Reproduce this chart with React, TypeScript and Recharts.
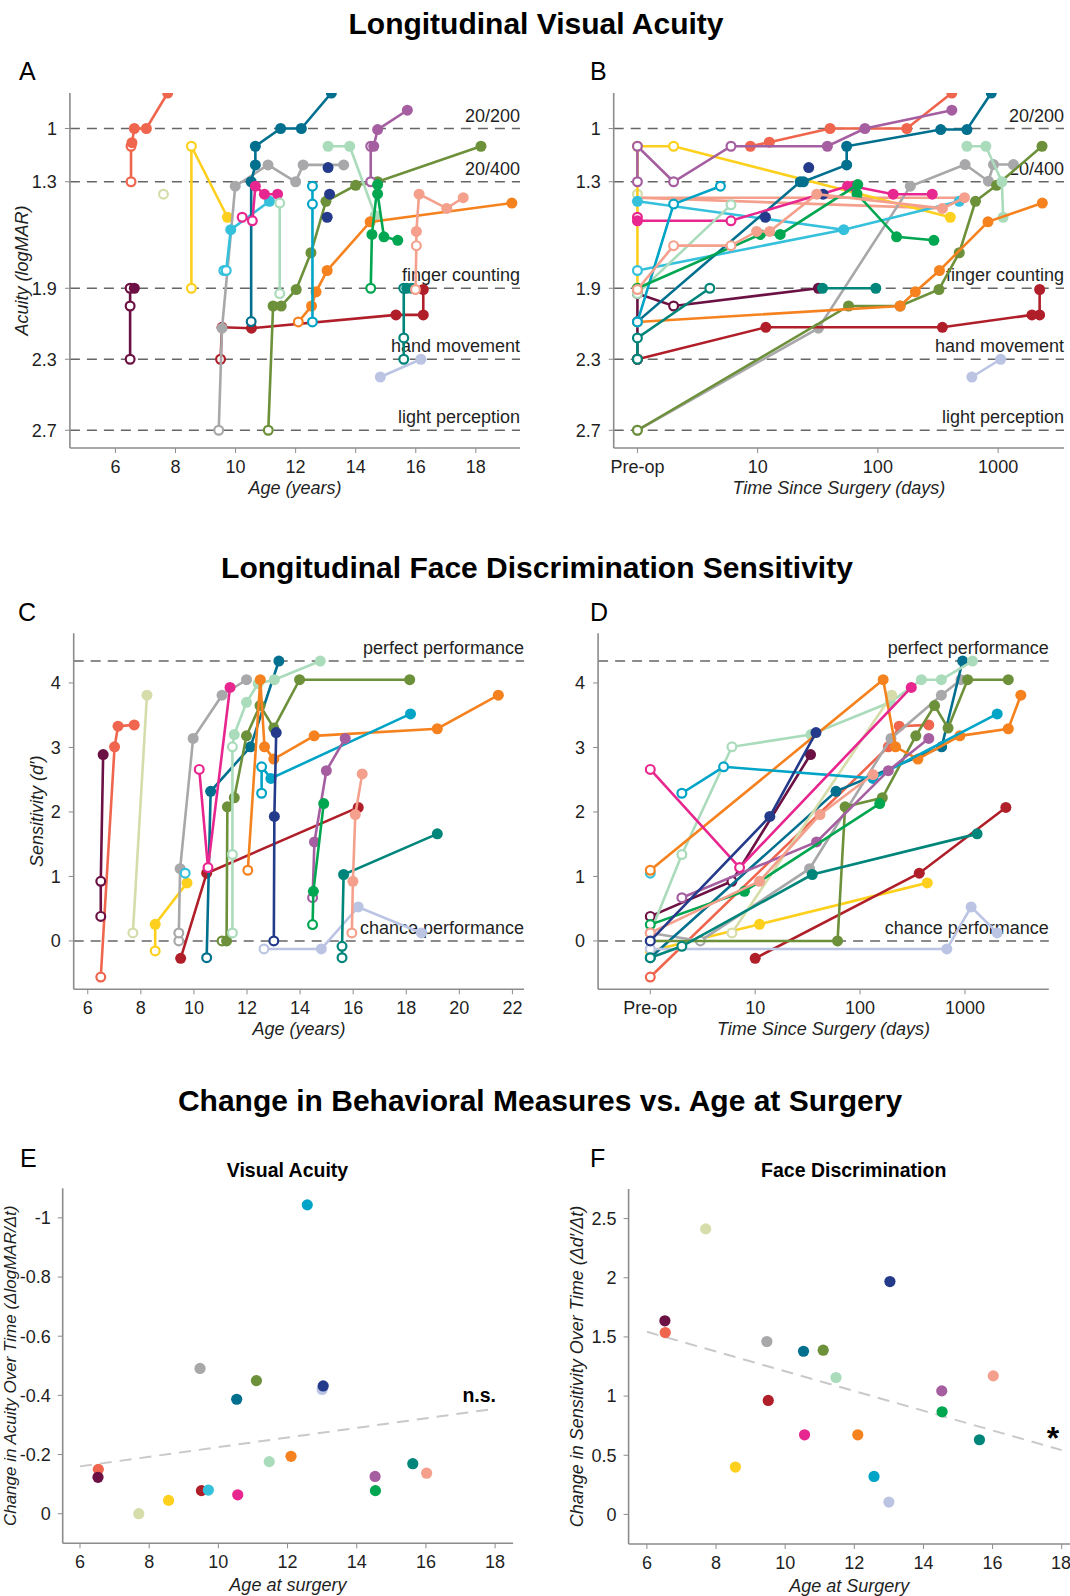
import React from "react";
import { ScatterChart, Scatter, XAxis, YAxis, ReferenceLine } from "recharts";

const FONT = '"Liberation Sans", Arial, Helvetica, sans-serif';
const INK = "#1f1f1f";
const AXIS_GREY = "#8c8c8c";
const GUIDE_GREY = "#666666";

// marker codes for each measurement
const FILL = 0;
const OPEN = 1;
const HIDE = 2;

type Pt = [number, number, number];
type Seg = { s: number; pts: Pt[]; line?: boolean };

// participants, in drawing order
const subjects = [
  "P01", "P02", "P03", "P04", "P05", "P06", "P07", "P08", "P09", "P10",
  "P11", "P12", "P13", "P14", "P15", "P16", "P17", "P18", "P19",
];
const subjectColors = [
  "#f0654d", "#6b1143", "#d6dcaa", "#fdd01e", "#a8a8aa", "#b01f29", "#35c0dc",
  "#016f8e", "#e8268f", "#6d903a", "#aadcbb", "#f5821f", "#00a4c6", "#bcc4e4",
  "#243a8a", "#a55fa0", "#00a650", "#00857a", "#f4a08c",
];
const surgeryAge = [
  6.53, 6.52, 7.7, 8.56, 9.47, 9.51, 9.71, 10.53, 10.56, 11.1,
  11.47, 12.1, 12.57, 13.0, 13.03, 14.53, 14.54, 15.62, 16.02,
];
const acuitySlope = [
  -0.15, -0.123, 0.0, -0.045, -0.491, -0.078, -0.08, -0.387, -0.064, -0.45,
  -0.176, -0.194, -1.044, -0.42, -0.432, -0.126, -0.078, -0.169, -0.137,
];
const faceSlope = [
  1.537, 1.636, 2.413, 0.4, 1.461, 0.963, null, 1.379, 0.673, 1.388,
  1.157, 0.673, 0.321, 0.104, 1.968, 1.044, 0.867, 0.631, 1.171,
];
const acuityFit: [number, number][] = [[6, -0.16], [18, -0.355]];
const faceFit: [number, number][] = [[6, 1.543], [18, 0.543]];

const acuityLevels = [1, 1.3, 1.9, 2.3, 2.7];
const acuityLevelNames = ["20/200", "20/400", "finger counting", "hand movement", "light perception"];
const faceLevels = [4.34, 0];
const faceLevelNames = ["perfect performance", "chance performance"];

// A: acuity (logMAR) by age
const acuityByAge: Seg[] = [
  { s: 0, pts: [[6.52, 1.3, OPEN], [6.52, 1.1, OPEN], [6.55, 1.08, FILL], [6.63, 1.0, FILL], [7.03, 1.0, FILL], [7.74, 0.8, FILL]] },
  { s: 1, pts: [[6.49, 2.3, OPEN], [6.49, 2.0, OPEN], [6.49, 1.9, OPEN], [6.63, 1.9, FILL]] },
  { s: 2, pts: [[7.6, 1.37, OPEN]] },
  { s: 3, pts: [[8.53, 1.9, OPEN], [8.53, 1.1, OPEN], [9.73, 1.5, FILL]] },
  { s: 5, pts: [[9.5, 2.3, OPEN], [9.55, 2.12, FILL], [10.53, 2.125, FILL], [15.34, 2.05, FILL], [16.25, 2.05, FILL], [16.25, 1.907, FILL]] },
  { s: 4, pts: [[9.44, 2.7, OPEN], [9.55, 2.125, FILL], [9.99, 1.325, FILL], [11.08, 1.205, FILL], [12.0, 1.3, FILL], [12.25, 1.205, FILL], [13.6, 1.205, FILL]] },
  { s: 6, pts: [[9.61, 1.8, OPEN], [9.69, 1.8, OPEN], [9.84, 1.57, FILL], [11.13, 1.41, FILL]] },
  { s: 7, pts: [[10.52, 2.088, OPEN], [10.52, 1.3, FILL], [10.66, 1.205, FILL], [10.66, 1.1, FILL], [11.5, 1.0, FILL], [12.19, 1.0, FILL], [13.19, 0.8, FILL]] },
  { s: 8, pts: [[10.22, 1.5, OPEN], [10.56, 1.52, OPEN], [10.66, 1.325, FILL], [10.96, 1.37, FILL], [11.4, 1.37, FILL]] },
  { s: 9, pts: [[11.09, 2.7, OPEN], [11.25, 2.0, FILL], [11.52, 2.0, FILL], [12.02, 1.907, FILL], [12.51, 1.7, FILL], [13.01, 1.41, FILL], [14.0, 1.32, FILL], [14.73, 1.3, FILL], [18.17, 1.1, FILL]] },
  { s: 10, pts: [[11.47, 1.93, OPEN], [11.47, 1.42, OPEN]] },
  { s: 10, pts: [[13.08, 1.1, FILL], [13.8, 1.1, FILL], [14.65, 1.49, FILL]] },
  { s: 11, pts: [[12.09, 2.09, OPEN], [12.53, 2.0, FILL], [12.68, 1.92, FILL], [13.05, 1.8, FILL], [14.48, 1.526, FILL], [19.2, 1.42, FILL]] },
  { s: 12, pts: [[12.56, 2.09, OPEN], [12.56, 1.426, OPEN], [12.56, 1.325, OPEN]] },
  { s: 13, pts: [[14.82, 2.4, FILL], [16.17, 2.3, FILL]] },
  { s: 14, pts: [[13.05, 1.5, FILL], [13.08, 1.22, FILL], [13.13, 1.37, FILL]], line: false },
  { s: 15, pts: [[14.5, 1.3, OPEN], [14.5, 1.1, OPEN], [14.6, 1.1, FILL], [14.73, 1.006, FILL], [15.72, 0.897, FILL]] },
  { s: 16, pts: [[14.5, 1.9, OPEN], [14.54, 1.597, FILL], [14.73, 1.316, FILL], [14.73, 1.368, FILL], [14.94, 1.61, FILL], [15.4, 1.63, FILL]] },
  { s: 17, pts: [[15.6, 2.3, OPEN], [15.6, 2.18, OPEN], [15.6, 1.9, OPEN], [15.7, 1.9, FILL], [15.87, 1.9, FILL]] },
  { s: 18, pts: [[15.99, 1.907, OPEN], [16.02, 1.66, OPEN], [16.02, 1.58, FILL], [16.11, 1.37, FILL], [17.03, 1.45, FILL], [17.58, 1.39, FILL]] },
];

// B: acuity (logMAR) by days since surgery, pre-op plotted at day 1
const acuityByDays: Seg[] = [
  { s: 18, pts: [[1, 1.39, HIDE], [525, 1.39, HIDE]] },
  { s: 18, pts: [[1, 1.39, HIDE], [344, 1.45, HIDE]] },
  { s: 0, pts: [[8.7, 1.1, FILL], [12.5, 1.077, FILL], [40, 1.0, FILL], [174, 1.0, FILL], [412, 0.8, FILL]] },
  { s: 1, pts: [[1, 2.3, OPEN], [1, 1.93, OPEN], [2, 2.0, OPEN], [32, 1.9, FILL]] },
  { s: 2, pts: [[1, 1.37, OPEN]] },
  { s: 3, pts: [[1, 1.9, OPEN], [1, 1.1, OPEN], [2, 1.1, OPEN], [400, 1.5, FILL]] },
  { s: 4, pts: [[1, 2.7, OPEN], [32, 2.125, FILL], [186, 1.325, FILL], [531, 1.203, FILL], [830, 1.297, FILL], [915, 1.203, FILL], [1340, 1.203, FILL]] },
  { s: 5, pts: [[1, 2.3, OPEN], [11.7, 2.12, FILL], [344, 2.12, FILL], [1910, 2.05, FILL], [2214, 2.05, FILL], [2214, 1.907, FILL]] },
  { s: 6, pts: [[1, 1.8, OPEN], [52, 1.57, FILL], [475, 1.41, FILL]] },
  { s: 6, pts: [[1, 1.41, FILL], [52, 1.57, HIDE]] },
  { s: 7, pts: [[1, 2.088, OPEN], [22.6, 1.3, FILL], [24, 1.3, FILL], [55, 1.205, FILL], [55, 1.1, FILL], [333, 1.006, FILL], [550, 1.006, FILL], [877, 0.8, FILL]] },
  { s: 8, pts: [[1, 1.5, OPEN], [1, 1.52, FILL], [6, 1.52, OPEN], [56, 1.325, FILL], [62, 1.325, FILL], [134, 1.37, FILL], [283, 1.37, FILL]] },
  { s: 9, pts: [[1, 2.7, OPEN], [57, 2.0, FILL], [153, 2.0, FILL], [322, 1.907, FILL], [475, 1.7, FILL], [648, 1.41, FILL], [970, 1.32, FILL], [2317, 1.1, FILL]] },
  { s: 10, pts: [[1, 1.93, OPEN], [6, 1.43, OPEN]] },
  { s: 10, pts: [[550, 1.1, FILL], [790, 1.1, FILL], [1075, 1.3, FILL], [1100, 1.5, FILL]] },
  { s: 11, pts: [[1, 2.09, OPEN], [153, 2.0, FILL], [205, 1.92, FILL], [325, 1.8, FILL], [823, 1.526, FILL], [2330, 1.42, FILL]] },
  { s: 12, pts: [[1, 2.09, OPEN], [2, 1.426, OPEN], [4.9, 1.325, OPEN]] },
  { s: 13, pts: [[605, 2.4, FILL], [1050, 2.3, FILL]] },
  { s: 14, pts: [[11.6, 1.5, FILL], [26.6, 1.22, FILL], [35, 1.37, FILL]], line: false },
  { s: 15, pts: [[1, 1.3, OPEN], [1, 1.1, OPEN], [2, 1.3, OPEN], [6, 1.1, OPEN], [38, 1.1, FILL], [78, 1.0, FILL], [412, 0.897, FILL]] },
  { s: 16, pts: [[1, 1.9, OPEN], [10.5, 1.597, FILL], [15.4, 1.597, FILL], [68, 1.316, FILL], [67, 1.368, FILL], [143, 1.61, FILL], [292, 1.63, FILL]] },
  { s: 17, pts: [[1, 2.3, OPEN], [1, 2.18, OPEN], [4, 1.9, OPEN]] },
  { s: 17, pts: [[34.6, 1.9, FILL], [96, 1.9, FILL]] },
  { s: 18, pts: [[1, 1.907, OPEN], [2, 1.66, OPEN], [6, 1.66, OPEN], [9.8, 1.58, FILL], [12.6, 1.58, FILL], [31, 1.37, FILL], [344, 1.45, FILL], [525, 1.39, FILL]] },
];

// C: face discrimination (d') by age
const faceByAge: Seg[] = [
  { s: 0, pts: [[6.49, -0.56, OPEN], [7.01, 3.01, FILL], [7.14, 3.33, FILL], [7.75, 3.35, FILL]] },
  { s: 1, pts: [[6.49, 0.38, OPEN], [6.49, 0.925, OPEN], [6.58, 2.89, FILL]] },
  { s: 2, pts: [[7.7, 0.124, OPEN], [8.23, 3.81, FILL]] },
  { s: 3, pts: [[8.54, -0.155, OPEN], [8.54, 0.258, FILL], [9.74, 0.9, FILL]] },
  { s: 4, pts: [[9.43, 0.0, OPEN], [9.43, 0.124, OPEN], [9.48, 1.12, FILL], [9.97, 3.14, FILL], [11.06, 3.81, FILL], [11.98, 4.05, FILL]] },
  { s: 5, pts: [[9.5, -0.27, FILL], [10.48, 1.05, FILL], [16.19, 2.07, FILL]] },
  { s: 6, pts: [[9.67, 1.05, OPEN]] },
  { s: 7, pts: [[10.48, -0.26, OPEN], [10.63, 2.32, FILL], [12.13, 3.01, FILL], [13.2, 4.34, FILL]] },
  { s: 8, pts: [[10.2, 2.66, OPEN], [10.53, 1.137, OPEN], [11.36, 3.93, FILL]] },
  { s: 9, pts: [[11.06, 0.0, OPEN], [11.23, 0.0, FILL], [11.26, 2.08, FILL], [11.52, 2.22, FILL], [11.98, 3.18, FILL], [12.49, 3.65, FILL], [13.01, 3.3, FILL], [13.98, 4.05, FILL], [18.13, 4.05, FILL]] },
  { s: 10, pts: [[11.45, 0.124, OPEN], [11.45, 1.34, OPEN], [11.45, 3.01, OPEN], [11.52, 3.2, FILL], [11.98, 3.7, FILL], [12.42, 3.99, FILL], [13.03, 4.05, FILL], [14.76, 4.34, FILL]] },
  { s: 11, pts: [[12.03, 1.096, OPEN], [12.5, 4.05, FILL], [12.66, 3.01, FILL], [13.01, 2.82, FILL], [14.53, 3.18, FILL], [19.17, 3.29, FILL], [21.47, 3.81, FILL]] },
  { s: 12, pts: [[12.55, 2.29, OPEN], [12.55, 2.7, OPEN], [12.9, 2.52, FILL], [18.16, 3.52, FILL]] },
  { s: 13, pts: [[12.64, -0.124, OPEN], [14.8, -0.124, FILL], [16.19, 0.527, FILL], [18.57, 0.124, FILL]] },
  { s: 14, pts: [[13.01, 0.0, OPEN], [13.03, 1.93, FILL], [13.1, 3.23, FILL]] },
  { s: 15, pts: [[14.47, 0.67, OPEN], [14.54, 1.535, FILL], [14.99, 2.64, FILL], [15.7, 3.14, FILL]] },
  { s: 16, pts: [[14.47, 0.253, OPEN], [14.5, 0.77, FILL], [14.89, 2.13, FILL]] },
  { s: 17, pts: [[15.58, -0.26, OPEN], [15.58, -0.083, OPEN], [15.64, 1.03, FILL], [19.17, 1.66, FILL]] },
  { s: 18, pts: [[15.95, 0.124, OPEN], [15.99, 0.925, FILL], [16.08, 1.96, FILL], [16.34, 2.59, FILL]] },
];

// D: face discrimination (d') by days since surgery
const faceByDays: Seg[] = [
  { s: 0, pts: [[1, -0.56, OPEN], [186, 3.01, FILL], [236, 3.33, FILL], [452, 3.35, FILL]] },
  { s: 1, pts: [[1, 0.38, OPEN], [6, 0.925, OPEN], [33.7, 2.89, FILL]] },
  { s: 3, pts: [[1, -0.155, OPEN], [11, 0.258, FILL], [437, 0.9, FILL]] },
  { s: 4, pts: [[1, 0.124, OPEN], [3, 0.0, OPEN], [33, 1.12, FILL], [197, 3.14, FILL], [596, 3.81, FILL], [915, 4.05, FILL]] },
  { s: 5, pts: [[10, -0.27, FILL], [367, 1.05, FILL], [2454, 2.07, FILL]] },
  { s: 6, pts: [[1, 1.05, OPEN]] },
  { s: 7, pts: [[1, -0.26, OPEN], [59, 2.32, FILL], [600, 3.01, FILL], [950, 4.34, FILL]] },
  { s: 9, pts: [[1, 0.0, OPEN], [61, 0.0, FILL], [72, 2.08, FILL], [163, 2.22, FILL], [340, 3.18, FILL], [513, 3.65, FILL], [690, 3.3, FILL], [1060, 4.05, FILL], [2590, 4.05, FILL]] },
  { s: 10, pts: [[1, 0.124, OPEN], [2, 1.34, OPEN], [6, 3.01, OPEN], [34, 3.2, FILL], [194, 3.7, FILL], [384, 4.05, FILL], [596, 4.05, FILL], [1180, 4.34, FILL]] },
  { s: 2, pts: [[6, 0.124, OPEN], [200, 3.81, FILL]] },
  { s: 11, pts: [[1, 1.096, OPEN], [166, 4.05, FILL], [218, 3.01, FILL], [356, 2.82, FILL], [894, 3.18, FILL], [2590, 3.29, FILL], [3410, 3.81, FILL]] },
  { s: 12, pts: [[2, 2.29, OPEN], [5, 2.7, OPEN], [133, 2.52, FILL], [2030, 3.52, FILL]] },
  { s: 13, pts: [[1, -0.124, OPEN], [672, -0.124, FILL], [1145, 0.527, FILL], [2030, 0.124, FILL]] },
  { s: 15, pts: [[2, 0.67, OPEN], [38.5, 1.535, FILL], [186, 2.64, FILL], [452, 3.14, FILL]] },
  { s: 16, pts: [[1, 0.253, OPEN], [7.9, 0.77, FILL], [154, 2.13, FILL]] },
  { s: 17, pts: [[1, -0.26, OPEN], [2, -0.083, OPEN], [35, 1.03, FILL], [1306, 1.66, FILL]] },
  { s: 18, pts: [[1, 0.124, OPEN], [11, 0.925, FILL], [41.5, 1.96, FILL], [133, 2.58, FILL]] },
  { s: 8, pts: [[1, 2.66, OPEN], [7.1, 1.137, OPEN], [308, 3.93, FILL]] },
  { s: 14, pts: [[1, 0.0, OPEN], [13.8, 1.93, FILL], [38, 3.23, FILL]] },
];

const ageTicksA = [6, 8, 10, 12, 14, 16, 18];
const ageTicksC = [6, 8, 10, 12, 14, 16, 18, 20, 22];
const dayTicks = [1, 10, 100, 1000];
const acuityTicks = [1, 1.3, 1.9, 2.3, 2.7];
const faceTicks = [0, 1, 2, 3, 4];
const slopeTicksE = [-1, -0.8, -0.6, -0.4, -0.2, 0];
const slopeTicksF = [0, 0.5, 1, 1.5, 2, 2.5];

type Box = { left: number; top: number; width: number; height: number; plot: { l: number; t: number; r: number; b: number } };

function frame(box: Box) {
  const p = box.plot;
  return {
    margin: { top: p.t - box.top, right: box.left + box.width - p.r, bottom: 0, left: 0 },
    yW: p.l - box.left,
    xH: box.top + box.height - p.b,
  };
}

const tickStyle = { fill: INK, fontSize: 18, fontFamily: FONT };
const dayLabel = (v: number) => (v === 1 ? "Pre-op" : String(v));

function LevelLabel(props: any) {
  const vb = props.viewBox || {};
  const x = (vb.x ?? 0) + (vb.width ?? 0);
  return (
    <text x={x} y={(vb.y ?? 0) - 7} textAnchor="end" fontSize={18} fontFamily={FONT} fill={INK}>
      {props.text}
    </text>
  );
}

function XTitle(props: any) {
  const vb = props.viewBox || {};
  return (
    <text x={vb.x + vb.width / 2} y={vb.y + props.drop} textAnchor="middle" fontSize={18} fontStyle="italic" fontFamily={FONT} fill={INK}>
      {props.text}
    </text>
  );
}

function YTitle(props: any) {
  const vb = props.viewBox || {};
  const cx = vb.x + props.at;
  const cy = vb.y + vb.height / 2;
  return (
    <text x={cx} y={cy} dy="0.36em" transform={`rotate(-90 ${cx} ${cy})`} textAnchor="middle" fontSize={props.size ?? 18} fontStyle="italic" fontFamily={FONT} fill={INK}>
      {props.text}
    </text>
  );
}

function markFor(color: string) {
  return (p: any) => {
    const { cx, cy, payload } = p;
    if (cx == null || cy == null || !payload || payload.m === HIDE) return <g />;
    if (payload.m === OPEN) {
      return <circle cx={cx} cy={cy} r={4.4} fill="#ffffff" stroke={color} strokeWidth={2.2} />;
    }
    return <circle cx={cx} cy={cy} r={5.5} fill={color} />;
  };
}

type TrajProps = {
  box: Box;
  segs: Seg[];
  logX: boolean;
  xDomain: [number, number];
  xTicks: number[];
  yDomain: [number, number];
  yTicks: number[];
  reversed: boolean;
  levels: number[];
  levelNames: string[];
  xTitle: string;
  xDrop: number;
  yTitle?: string;
  yAt?: number;
};

function TrajectoryPanel(props: TrajProps) {
  const { box, segs } = props;
  const f = frame(box);
  return (
    <div style={{ position: "absolute", left: box.left, top: box.top }}>
      <ScatterChart width={box.width} height={box.height} margin={f.margin}>
        <XAxis
          type="number"
          dataKey="x"
          scale={props.logX ? "log" : "auto"}
          domain={props.xDomain}
          ticks={props.xTicks}
          tickFormatter={props.logX ? dayLabel : undefined}
          allowDataOverflow
          height={f.xH}
          tick={tickStyle}
          tickSize={5}
          tickMargin={7}
          axisLine={{ stroke: AXIS_GREY, strokeWidth: 1.6 }}
          tickLine={{ stroke: AXIS_GREY }}
          label={<XTitle text={props.xTitle} drop={props.xDrop} />}
        />
        <YAxis
          type="number"
          dataKey="y"
          domain={props.yDomain}
          ticks={props.yTicks}
          reversed={props.reversed}
          allowDataOverflow
          width={f.yW}
          tick={tickStyle}
          tickSize={5}
          tickMargin={8}
          axisLine={{ stroke: AXIS_GREY, strokeWidth: 1.6 }}
          tickLine={{ stroke: AXIS_GREY }}
          label={props.yTitle ? <YTitle text={props.yTitle} at={props.yAt} /> : undefined}
        />
        {props.levels.map((lv, i) => (
          <ReferenceLine
            key={`lv${i}`}
            y={lv}
            stroke={GUIDE_GREY}
            strokeWidth={1.4}
            strokeDasharray="10 7"
            label={<LevelLabel text={props.levelNames[i]} />}
          />
        ))}
        {segs.map((sg, i) => {
          const color = subjectColors[sg.s];
          return (
            <Scatter
              key={`${subjects[sg.s]}-${i}`}
              name={subjects[sg.s]}
              data={sg.pts.map(([x, y, m]) => ({ x, y, m }))}
              fill={color}
              line={sg.line === false ? false : { stroke: color, strokeWidth: 2.6 }}
              shape={markFor(color)}
              isAnimationActive={false}
            />
          );
        })}
      </ScatterChart>
    </div>
  );
}

type SlopeProps = {
  box: Box;
  slopes: (number | null)[];
  fit: [number, number][];
  xDomain: [number, number];
  yDomain: [number, number];
  yTicks: number[];
  reversed: boolean;
  xTitle: string;
  yTitle: string;
  yAt: number;
  ySize?: number;
};

function dotFor(p: any) {
  const { cx, cy, payload } = p;
  if (cx == null || cy == null || !payload) return <g />;
  return <circle cx={cx} cy={cy} r={5.6} fill={subjectColors[payload.s]} />;
}

function SlopePanel(props: SlopeProps) {
  const { box } = props;
  const f = frame(box);
  const pts = props.slopes
    .map((v, s) => ({ x: surgeryAge[s], y: v, s }))
    .filter((d) => d.y !== null);
  const fitPts = props.fit.map(([x, y]) => ({ x, y }));
  return (
    <div style={{ position: "absolute", left: box.left, top: box.top }}>
      <ScatterChart width={box.width} height={box.height} margin={f.margin}>
        <XAxis
          type="number"
          dataKey="x"
          domain={props.xDomain}
          ticks={[6, 8, 10, 12, 14, 16, 18]}
          allowDataOverflow
          height={f.xH}
          tick={tickStyle}
          tickSize={5}
          tickMargin={7}
          axisLine={{ stroke: AXIS_GREY, strokeWidth: 1.6 }}
          tickLine={{ stroke: AXIS_GREY }}
          label={<XTitle text={props.xTitle} drop={48} />}
        />
        <YAxis
          type="number"
          dataKey="y"
          domain={props.yDomain}
          ticks={props.yTicks}
          reversed={props.reversed}
          allowDataOverflow
          width={f.yW}
          tick={tickStyle}
          tickSize={5}
          tickMargin={7}
          axisLine={{ stroke: AXIS_GREY, strokeWidth: 1.6 }}
          tickLine={{ stroke: AXIS_GREY }}
          label={<YTitle text={props.yTitle} at={props.yAt} size={props.ySize} />}
        />
        <Scatter
          name="fit"
          data={fitPts}
          fill="#c9c9c9"
          line={{ stroke: "#c9c9c9", strokeWidth: 2, strokeDasharray: "12 8" }}
          shape={() => <g />}
          isAnimationActive={false}
        />
        <Scatter name="slopes" data={pts} fill="#999" shape={dotFor} isAnimationActive={false} />
      </ScatterChart>
    </div>
  );
}

const boxA: Box = { left: 0, top: 60, width: 530, height: 450, plot: { l: 69.9, t: 93, r: 520, b: 448 } };
const boxB: Box = { left: 540, top: 60, width: 530, height: 450, plot: { l: 613.7, t: 93, r: 1064, b: 448 } };
const boxC: Box = { left: 0, top: 600, width: 535, height: 450, plot: { l: 73.7, t: 633.3, r: 524.1, b: 989.3 } };
const boxD: Box = { left: 540, top: 600, width: 530, height: 450, plot: { l: 598.1, t: 633.3, r: 1048.8, b: 989.3 } };
const boxE: Box = { left: 0, top: 1120, width: 530, height: 476, plot: { l: 62.7, t: 1188.3, r: 513.1, b: 1543.3 } };
const boxF: Box = { left: 540, top: 1120, width: 530, height: 476, plot: { l: 628.6, t: 1189, r: 1070, b: 1544 } };

export default function App() {
  const title = { fontFamily: FONT, fontWeight: 700, fontSize: 30, fill: "#000" } as const;
  const letter = { fontFamily: FONT, fontSize: 25, fill: "#000" } as const;
  const sub = { fontFamily: FONT, fontWeight: 700, fontSize: 19.5, fill: "#000" } as const;
  return (
    <div style={{ position: "absolute", left: 0, top: 0, width: 1070, height: 1596, overflow: "hidden", background: "#fff" }}>
      <svg width={1070} height={1596} style={{ position: "absolute", left: 0, top: 0 }}>
        <text x={536} y={33.5} textAnchor="middle" {...title}>Longitudinal Visual Acuity</text>
        <text x={537} y={578} textAnchor="middle" {...title}>Longitudinal Face Discrimination Sensitivity</text>
        <text x={540} y={1111} textAnchor="middle" {...title}>Change in Behavioral Measures vs. Age at Surgery</text>
        <text x={19} y={80} {...letter}>A</text>
        <text x={590} y={80} {...letter}>B</text>
        <text x={18} y={620.5} {...letter}>C</text>
        <text x={590} y={620.5} {...letter}>D</text>
        <text x={20} y={1166.7} {...letter}>E</text>
        <text x={590} y={1166.7} {...letter}>F</text>
        <text x={287.5} y={1176.7} textAnchor="middle" {...sub}>Visual Acuity</text>
        <text x={853.7} y={1176.7} textAnchor="middle" {...sub}>Face Discrimination</text>
        <text x={496} y={1401.7} textAnchor="end" {...sub}>n.s.</text>
        <text x={1053} y={1449} textAnchor="middle" fontFamily={FONT} fontWeight={700} fontSize={32}>*</text>
      </svg>
      <TrajectoryPanel
        box={boxA}
        segs={acuityByAge}
        logX={false}
        xDomain={[4.485, 19.47]}
        xTicks={ageTicksA}
        yDomain={[0.8, 2.8]}
        yTicks={acuityTicks}
        reversed
        levels={acuityLevels}
        levelNames={acuityLevelNames}
        xTitle="Age (years)"
        xDrop={46}
        yTitle="Acuity (logMAR)"
        yAt={21.4}
      />
      <TrajectoryPanel
        box={boxB}
        segs={acuityByDays}
        logX
        xDomain={[0.635, 3530]}
        xTicks={dayTicks}
        yDomain={[0.8, 2.8]}
        yTicks={acuityTicks}
        reversed
        levels={acuityLevels}
        levelNames={acuityLevelNames}
        xTitle="Time Since Surgery (days)"
        xDrop={46}
      />
      <TrajectoryPanel
        box={boxC}
        segs={faceByAge}
        logX={false}
        xDomain={[5.47, 22.44]}
        xTicks={ageTicksC}
        yDomain={[-0.75, 4.77]}
        yTicks={faceTicks}
        reversed={false}
        levels={faceLevels}
        levelNames={faceLevelNames}
        xTitle="Age (years)"
        xDrop={45.7}
        yTitle="Sensitivity (d′)"
        yAt={36.8}
      />
      <TrajectoryPanel
        box={boxD}
        segs={faceByDays}
        logX
        xDomain={[0.318, 6300]}
        xTicks={dayTicks}
        yDomain={[-0.75, 4.77]}
        yTicks={faceTicks}
        reversed={false}
        levels={faceLevels}
        levelNames={faceLevelNames}
        xTitle="Time Since Surgery (days)"
        xDrop={45.7}
      />
      <SlopePanel
        box={boxE}
        slopes={acuitySlope}
        fit={acuityFit}
        xDomain={[5.5, 18.52]}
        yDomain={[-1.1, 0.1]}
        yTicks={slopeTicksE}
        reversed
        xTitle="Age at surgery"
        yTitle="Change in Acuity Over Time (ΔlogMAR/Δt)"
        yAt={9.5}
        ySize={17}
      />
      <SlopePanel
        box={boxF}
        slopes={faceSlope}
        fit={faceFit}
        xDomain={[5.47, 18.24]}
        yDomain={[-0.25, 2.75]}
        yTicks={slopeTicksF}
        reversed={false}
        xTitle="Age at Surgery"
        yTitle="Change in Sensitivity Over Time (Δd′/Δt)"
        yAt={36.2}
      />
    </div>
  );
}
